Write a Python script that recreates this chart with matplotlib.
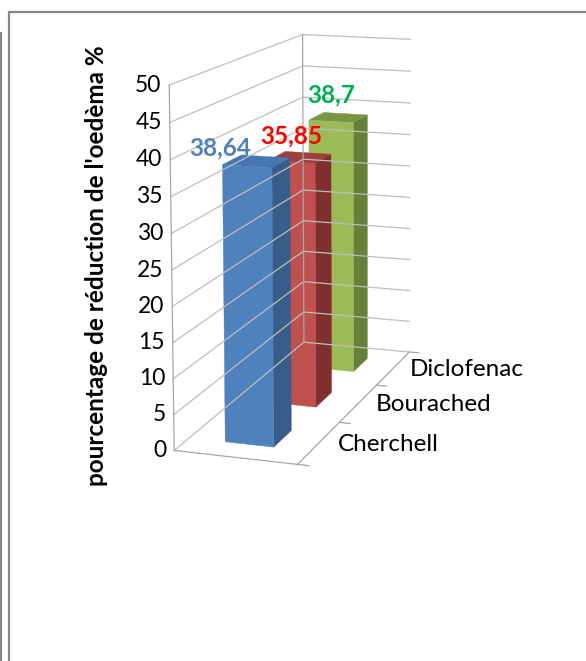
import numpy as np
import matplotlib
matplotlib.use('Agg')
import matplotlib.pyplot as plt
from matplotlib.patches import Polygon

# data
series = ['Cherchell', 'Bourached', 'Diclofenac']
values = [38.64, 35.85, 38.7]
ticks = [0, 5, 10, 15, 20, 25, 30, 35, 40, 45, 50]
ylabel = "pourcentage de réduction de l'oedèma %"

front_cols = ['#4F81BD', '#C0504D', '#9BBB59']
side_cols = ['#385D8A', '#7F302E', '#66803A']
top_cols = ['#4677B3', '#9E3F3C', '#7A9644']
label_cols = ['#4F81BD', '#FF0000', '#00B050']
label_nudge = [(-27, 8), (0, 0), (0, 0)]

ZMAX = 50.0
W, H = 586, 661

# corners of the 3d box (category x, depth d, value z) and where they sit on the page
box_world = [(0, 0, 0), (1, 0, 0), (1, 1, 0), (0, 1, 0), (0, 0, 50), (0, 1, 50), (1, 1, 50)]
box_px = [(175, 449), (297, 466), (410, 350), (303, 344), (169, 85), (303, 34), (410, 40)]


def fit_camera(world, px):
    rows = []
    for (x, d, z), (u, v) in zip(world, px):
        z = z / ZMAX
        rows.append([x, d, z, 1, 0, 0, 0, 0, -u * x, -u * d, -u * z, -u])
        rows.append([0, 0, 0, 0, x, d, z, 1, -v * x, -v * d, -v * z, -v])
    _, _, vt = np.linalg.svd(np.array(rows, dtype=float))
    return vt[-1].reshape(3, 4)


P = fit_camera(box_world, box_px)


def proj(x, d, z):
    p = P @ np.array([x, d, z / ZMAX, 1.0])
    return p[0] / p[2], p[1] / p[2]


def line3d(ax, a, b, **kw):
    pa, pb = proj(*a), proj(*b)
    ax.plot([pa[0], pb[0]], [pa[1], pb[1]], **kw)


def face(ax, pts, col):
    ax.add_patch(Polygon([proj(*p) for p in pts], closed=True, facecolor=col,
                         edgecolor=col, linewidth=0.3, antialiased=True))


fig = plt.figure(figsize=(W / 100, H / 100), dpi=100)
ax = fig.add_axes([0, 0, 1, 1])
ax.set_xlim(0, W)
ax.set_ylim(H, 0)
ax.axis('off')

# chart frame
ax.plot([8.5, 8.5, W], [H, 11.5, 11.5], color='#878787', lw=1.6, solid_joinstyle='miter')
ax.plot([1, 1], [33, H], color='#878787', lw=1.6)

grid = dict(color='#BEBEBE', lw=0.9)
edge = dict(color='#A6A6A6', lw=0.9)

# walls
for t in ticks:
    line3d(ax, (0, 0, t), (0, 1, t), **grid)
    line3d(ax, (0, 1, t), (1, 1, t), **grid)
line3d(ax, (0, 0, 0), (0, 0, ZMAX), **edge)
line3d(ax, (0, 1, 0), (0, 1, ZMAX), **edge)

# floor edges and depth axis
line3d(ax, (0, 0, 0), (1, 0, 0), **edge)
line3d(ax, (1, 0, 0), (1, 1, 0), **edge)
for k in range(len(series) + 1):
    d = k / len(series)
    line3d(ax, (1, d, 0), (1.09, d, 0), **edge)

# value axis labels
for t in ticks:
    u, v = proj(0, 0, t)
    ax.text(u - 8, v, str(t), ha='right', va='center', fontsize=16.5,
            family='Lato', color='black')

ax.text(97, 266, ylabel, rotation=90, ha='center', va='center',
        fontsize=17.5, fontweight='bold', family='Lato')

# depth axis labels
n = len(series)
for i, name in enumerate(series):
    u, v = proj(1.15, (i + 0.5) / n, 0)
    ax.text(u, v, name, ha='left', va='center', fontsize=17.5, family='Lato')

# bars, back to front
bw, bd = 0.4, 0.4
for i in reversed(range(n)):
    val = values[i]
    x0, x1 = 0.5 - bw / 2, 0.5 + bw / 2
    dc = (i + 0.5) / n
    d0, d1 = dc - bd / (2 * n), dc + bd / (2 * n)
    face(ax, [(x1, d0, 0), (x1, d1, 0), (x1, d1, val), (x1, d0, val)], side_cols[i])
    face(ax, [(x0, d0, val), (x1, d0, val), (x1, d1, val), (x0, d1, val)], top_cols[i])
    face(ax, [(x0, d0, 0), (x1, d0, 0), (x1, d0, val), (x0, d0, val)], front_cols[i])

# data labels
for i in range(n):
    val = values[i]
    u, v = proj(0.5, (i + 0.5 - bd / 2) / n, val)
    dx, dy = label_nudge[i]
    txt = f'{val:g}'.replace('.', ',')
    ax.text(u + dx, v - 26 + dy, txt, ha='center', va='center', fontsize=17.5,
            fontweight='bold', family='Lato', color=label_cols[i])

fig.savefig('out.png', dpi=100)
